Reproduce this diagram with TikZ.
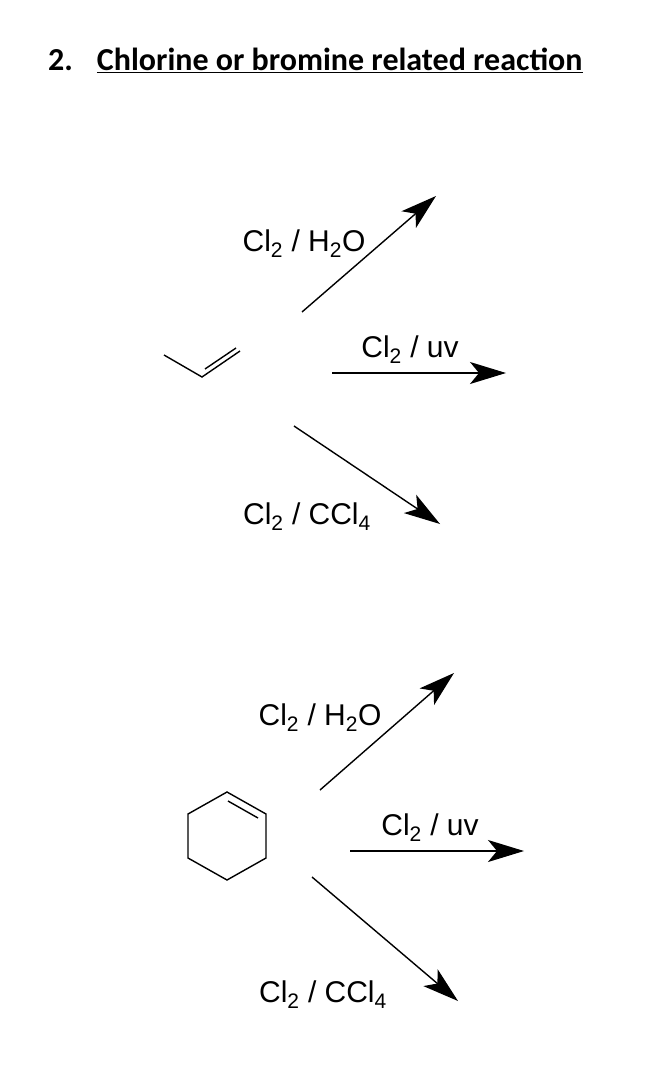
\documentclass[tikz,border=0pt]{standalone}
\usepackage{fontspec}
\setmainfont{Liberation Sans}
\newfontfamily\titlefont{Carlito}
\usetikzlibrary{arrows.meta}
\begin{document}
\begin{tikzpicture}[x=1pt,y=-1pt,
  bond/.style={line width=1.4pt},
  rxn/.style={line width=1.4pt,-{Stealth[length=36pt,width=22pt,inset=9pt]}},
  lbl/.style={font=\fontsize{30}{34}\selectfont,inner sep=0pt}]
\useasboundingbox[fill=white] (0,0) rectangle (650,1078);
\node[anchor=base west,inner sep=0pt,font=\titlefont\bfseries\fontsize{32}{36}\selectfont] (title) at (48,71) {2.\hspace{0.75em}\underline{Chlorine or bromine related reaction}};
% propene
\coordinate (p1) at (164,355); \coordinate (p2) at (202,377); \coordinate (p3) at (240,351);
\coordinate (p4) at (205,369); \coordinate (p5) at (236,348);
\draw[bond] (p1)--(p2)--(p3); \draw[bond] (p4)--(p5);
\coordinate (a1s) at (302,312); \coordinate (a1e) at (436,196);
\coordinate (a2s) at (332,373); \coordinate (a2e) at (506,373);
\coordinate (a3s) at (294,426); \coordinate (a3e) at (440,524);
\draw[rxn] (a1s)--(a1e); \draw[rxn] (a2s)--(a2e); \draw[rxn] (a3s)--(a3e);
\node[lbl] (l1) at (304,244) {Cl\textsubscript{2} / H\textsubscript{2}O};
\node[lbl] (l2) at (410,350) {Cl\textsubscript{2} / uv};
\node[lbl] (l3) at (307,517) {Cl\textsubscript{2} / CCl\textsubscript{4}};
% cyclohexene
\coordinate (c1) at (227,792); \coordinate (c2) at (266,814); \coordinate (c3) at (266,858);
\coordinate (c4) at (227,880); \coordinate (c5) at (188,858); \coordinate (c6) at (188,814);
\coordinate (c7) at (228,801); \coordinate (c8) at (258,818);
\draw[bond,line join=miter] (c1)--(c2)--(c3)--(c4)--(c5)--(c6)--cycle; \draw[bond] (c7)--(c8);
\coordinate (b1s) at (320,790); \coordinate (b1e) at (454,673);
\coordinate (b2s) at (350,851); \coordinate (b2e) at (524,851);
\coordinate (b3s) at (312,877); \coordinate (b3e) at (458,1001);
\draw[rxn] (b1s)--(b1e); \draw[rxn] (b2s)--(b2e); \draw[rxn] (b3s)--(b3e);
\node[lbl] (m1) at (320,718) {Cl\textsubscript{2} / H\textsubscript{2}O};
\node[lbl] (m2) at (430,828) {Cl\textsubscript{2} / uv};
\node[lbl] (m3) at (323,995) {Cl\textsubscript{2} / CCl\textsubscript{4}};
\end{tikzpicture}
\end{document}
